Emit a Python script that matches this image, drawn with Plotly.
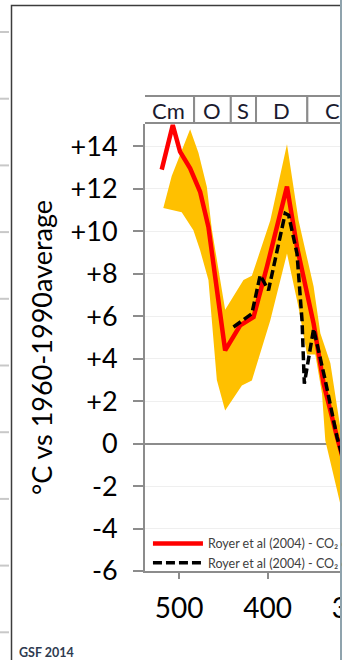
import plotly.graph_objects as go

# ---------------- data ----------------
# Red line: Royer et al (2004), age in Ma, temperature anomaly in °C
red_age = [519.6, 507.1, 498.9, 487.5, 476.2, 466.8, 447.9, 430.9, 415.8,
           400.7, 378.0, 366.7, 347.9, 336.6, 321.4, 300.0]
red_temp = [12.9, 15.0, 13.75, 12.96, 11.86, 10.2, 4.39, 5.57, 5.96,
            8.32, 12.1, 9.26, 5.65, 2.82, 0.3, -3.0]

# Black dashed line: Royer et al (2004), second series
black_age = [438.5, 417.7, 408.3, 398.9, 380.0, 376.2, 366.7, 361.0, 358.4,
             347.9, 334.7, 321.4, 300.0]
black_temp = [5.49, 6.12, 7.93, 7.22, 10.84, 10.76, 8.95, 5.8, 2.82,
              5.41, 2.97, 0.3, -3.0]

# Orange uncertainty band: upper and lower edges
band_upper_age = [517.8, 508.3, 487.5, 478.1, 468.6, 463.0, 447.9, 427.2, 417.7,
                  396.9, 378.0, 364.9, 347.9, 340.3, 329.0, 315.7, 300.0]
band_upper = [11.1, 12.6, 14.8, 13.7, 12.1, 10.1, 6.3, 7.7, 7.9,
              10.5, 14.1, 10.5, 7.4, 5.2, 3.8, 0.2, -2.5]
band_lower_age = [517.8, 497.0, 483.8, 476.2, 466.8, 457.3, 447.9, 429.0, 417.7,
                  396.9, 378.0, 364.9, 355.4, 346.0, 338.4, 334.7, 318.0, 300.0]
band_lower = [11.1, 10.9, 10.05, 9.1, 7.7, 3.0, 1.56, 2.74, 2.97,
              5.8, 8.95, 6.4, 4.2, 4.2, 2.35, 0.15, -2.8, -6.5]

# Geological periods (boundaries in Ma)
period_names = ["Cm", "O", "S", "D", "C"]
period_bounds = [541, 483, 441.5, 413, 355, 299]

y_tickvals = [-6, -4, -2, 0, 2, 4, 6, 8, 10, 12, 14]
y_ticktext = ["-6", "-4", "-2", "0", "+2", "+4", "+6", "+8", "+10", "+12", "+14"]
x_tickvals = [500, 400, 300]
x_ticktext = ["500", "400", "300"]

series_names = ["Royer et al (2004) - CO\u2082 corrected",
                "Royer et al (2004) - CO\u2082 corrected (pH)"]

FONT = "Lato, 'Open Sans', sans-serif"
GRAY = "#8c8c8c"

fig = go.Figure()

fig.add_trace(go.Scatter(
    x=band_upper_age + band_lower_age[::-1],
    y=band_upper + band_lower[::-1],
    fill="toself", fillcolor="#FFC000", mode="lines",
    line=dict(width=0, color="#FFC000"),
    showlegend=False, hoverinfo="skip"))

fig.add_trace(go.Scatter(
    x=red_age, y=red_temp, mode="lines", name=series_names[0],
    line=dict(color="#FF0000", width=4.5)))

fig.add_trace(go.Scatter(
    x=black_age, y=black_temp, mode="lines", name=series_names[1],
    line=dict(color="#000000", width=3.5, dash="9px,4px")))

shapes = []
# outer frame of the (screenshotted) chart
shapes.append(dict(type="rect", xref="paper", yref="paper",
                   xsizemode="pixel", xanchor=0, x0=-133.5, x1=600,
                   ysizemode="pixel", yanchor=1, y0=118.5, y1=-700,
                   line=dict(color="#3c3c3c", width=1.5),
                   fillcolor="white", layer="below"))
# faint lines of the page behind, on the left
for k in range(10):
    py = 32 + k * 66.7
    shapes.append(dict(type="line", xref="paper", yref="paper",
                       xsizemode="pixel", xanchor=0, x0=-145, x1=-136,
                       ysizemode="pixel", yanchor=1, y0=124 - py, y1=124 - py,
                       line=dict(color="#c8c8c8", width=2), layer="below"))
# period boxes
for i, name in enumerate(period_names):
    shapes.append(dict(type="rect", xref="x", yref="paper",
                       x0=period_bounds[i], x1=period_bounds[i + 1],
                       ysizemode="pixel", yanchor=1, y0=1, y1=28,
                       line=dict(color=GRAY, width=2), fillcolor="white",
                       layer="above"))
# window edge on the right
shapes.append(dict(type="rect", xref="paper", yref="paper",
                   xsizemode="pixel", xanchor=0, x0=195, x1=230,
                   ysizemode="pixel", yanchor=1, y0=130, y1=-700,
                   line=dict(width=0), fillcolor="#8fa3ad", layer="above"))

annotations = []
for i, name in enumerate(period_names):
    annotations.append(dict(text=name, xref="x", yref="paper",
                            x=(period_bounds[i] + period_bounds[i + 1]) / 2,
                            y=1, yanchor="middle", yshift=14, showarrow=False,
                            font=dict(family=FONT, size=22, color="#1b1b2f")))
annotations.append(dict(text="<b>GSF 2014</b>", xref="paper", yref="paper",
                        x=0, y=0, xanchor="left", yanchor="middle",
                        xshift=-128, yshift=-81, showarrow=False,
                        font=dict(family=FONT, size=12.5, color="#2e3a4f")))

fig.update_layout(
    width=600, height=660,
    margin=dict(l=145, r=244, t=124, b=89, pad=0, autoexpand=False),
    paper_bgcolor="white", plot_bgcolor="white",
    font=dict(family=FONT, color="#000000"),
    shapes=shapes, annotations=annotations,
    showlegend=True,
    legend=dict(x=0.014, y=0.094, xanchor="left", yanchor="top",
                bgcolor="rgba(0,0,0,0)", itemwidth=50,
                font=dict(family=FONT, size=12.5, color="#404040"),
                tracegroupgap=0),
    xaxis=dict(range=[538.5, 300], tickvals=x_tickvals, ticktext=x_ticktext,
               ticks="outside", ticklen=6, tickwidth=2, tickcolor=GRAY,
               showline=True, linecolor=GRAY, linewidth=2, tickangle=0,
               showgrid=False, zeroline=False, ticklabelstandoff=5,
               automargin=False,
               tickfont=dict(family=FONT, size=28, color="#000000")),
    yaxis=dict(range=[-6, 15.05], tickvals=y_tickvals, ticktext=y_ticktext,
               ticks="outside", ticklen=10, tickwidth=1.5, tickcolor=GRAY,
               showline=True, linecolor=GRAY, linewidth=2,
               showgrid=True, gridcolor="#efefef", gridwidth=1,
               zeroline=True, zerolinecolor=GRAY, zerolinewidth=2,
               ticklabelstandoff=10, automargin=False,
               tickfont=dict(family=FONT, size=27, color="#000000"),
               title=dict(text="°C vs 1960-1990average", standoff=10,
                          font=dict(family=FONT, size=27, color="#000000"))),
)

fig.write_html("out.html")
